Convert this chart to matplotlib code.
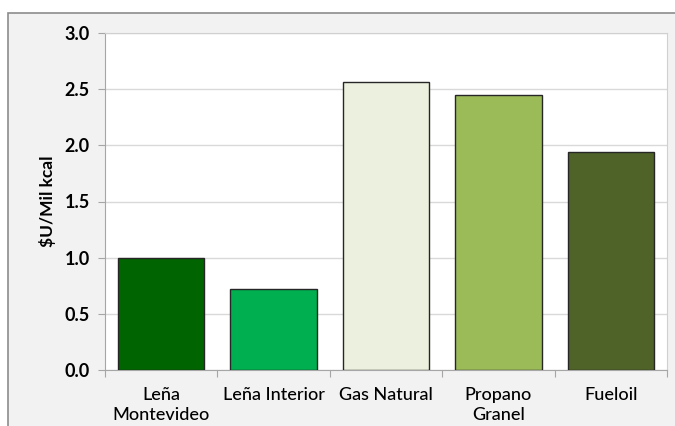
import matplotlib.pyplot as plt
from matplotlib.patches import Rectangle

categorias = ['Leña\nMontevideo', 'Leña Interior', 'Gas Natural', 'Propano\nGranel', 'Fueloil']
precios = [1.00, 0.72, 2.56, 2.45, 1.94]
colores = ['#006400', '#00B050', '#EBF1DE', '#9BBB59', '#4F6228']
yticks = [0.0, 0.5, 1.0, 1.5, 2.0, 2.5, 3.0]

plt.rcParams['font.family'] = ['Lato', 'DejaVu Sans']

fig = plt.figure(figsize=(6.75, 4.26), dpi=100, facecolor='white')
W, H = 675, 426

# marco gris del area del grafico
fondo = Rectangle((8 / W, -0.1), 1.2, 1 - 12.5 / H + 0.1, transform=fig.transFigure,
                  facecolor='#F2F2F2', edgecolor='#8C8C8C', linewidth=1.2, zorder=-10)
fig.patches.append(fondo)

ax = fig.add_axes([105 / W, 1 - 370 / H, (667 - 105) / W, (370 - 33) / H])
ax.set_facecolor('white')

x = range(len(categorias))
ax.bar(x, precios, width=0.77, color=colores, edgecolor='#262626', linewidth=1.0, zorder=3)

ax.set_xlim(-0.5, len(categorias) - 0.5)
ax.set_ylim(0, 3.0)
ax.set_yticks(yticks)
ax.set_yticklabels(['%.1f' % v for v in yticks], fontsize=13, fontweight='bold')
ax.yaxis.grid(True, color='#D9D9D9', linewidth=1.0, zorder=0)

# ticks del eje x entre categorias, etiquetas centradas
ax.set_xticks([i - 0.5 for i in range(len(categorias) + 1)])
ax.set_xticklabels([])
ax.set_xticks(list(x), minor=True)
ax.set_xticklabels(categorias, minor=True, fontsize=13, fontweight='medium', linespacing=1.3)
ax.tick_params(axis='x', which='minor', length=0, pad=12)
ax.tick_params(axis='x', which='major', length=5, color='#A6A6A6', direction='out')
ax.tick_params(axis='y', length=5, color='#A6A6A6', direction='out', pad=6)

for lado in ['left', 'bottom', 'right', 'top']:
    ax.spines[lado].set_color('#A6A6A6')
ax.spines['right'].set_color('#D0D0D0')
ax.spines['top'].set_color('#D0D0D0')

ax.set_ylabel('$U/Mil kcal', fontsize=12.5, fontweight='bold', labelpad=6)

fig.savefig('out.png', dpi=100, facecolor=fig.get_facecolor())
